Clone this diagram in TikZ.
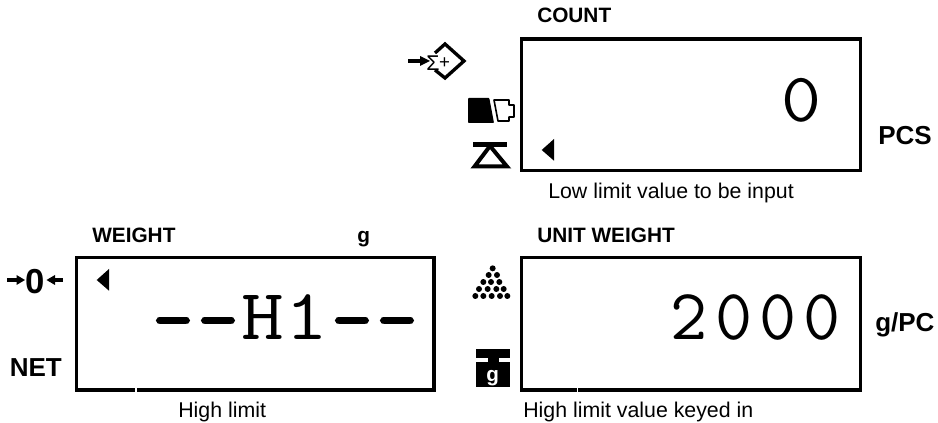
\documentclass[tikz,border=0pt]{standalone}
\usepackage{fontspec}
\setmainfont{Liberation Sans}
\newfontfamily\lcdmono[LetterSpace=10]{Latin Modern Mono}
\newfontfamily\lcdhi[FakeStretch=1.15,LetterSpace=1.5]{Latin Modern Mono}
\newfontfamily\lcddash[FakeBold=3]{Latin Modern Mono}
\newfontfamily\lcdzero[FakeStretch=1.12]{Latin Modern Mono}
\tikzset{
 lcd/.style={draw=black,line width=2.3pt,fill=none},
 lab/.style={font=\fontsize{15.6pt}{16pt}\selectfont\bfseries,inner sep=0pt,anchor=base west},
 biglab/.style={font=\fontsize{19.5pt}{20pt}\selectfont\bfseries,inner sep=0pt,anchor=base west},
 note/.style={font=\fontsize{16pt}{18pt}\selectfont,inner sep=0pt,anchor=base west},
 read/.style={font=\fontsize{54pt}{56pt}\selectfont\lcdmono,inner sep=0pt},
 dashch/.style={font=\fontsize{54pt}{56pt}\selectfont\lcddash,inner sep=0pt,anchor=base},
 pile/.style={fill=black,draw=none},
}
\begin{document}
\begin{tikzpicture}[x=0.75pt,y=-0.75pt]
\useasboundingbox (0,0) rectangle (938,423);
% boxes
\draw[lcd] (521.6,39) rectangle (860.7,170.5);
\draw[lcd] (76.7,257.7) rectangle (434,390);
\draw[lcd] (521.7,257.7) rectangle (860.7,390);
\fill[white] (135,387) rectangle (137,393);
\fill[white] (576.7,387) rectangle (578,393);
% labels
\node[lab] (l1) at (537,22.5) {COUNT};
\node[biglab] (l2) at (878,144.5) {PCS};
\node[lab] (l3) at (92,242.5) {WEIGHT};
\node[lab] (l4) at (357,242.5) {g};
\node[lab] (l5) at (537,242.5) {UNIT WEIGHT};
\node[biglab] (l6) at (875,331.5) {g/PC};
\node[biglab] (l7) at (9.5,377) {NET};
\node[note] (n1) at (548,199) {Low limit value to be input};
\node[note] (n2) at (178,417.5) {High limit};
\node[note] (n3) at (523,417.5) {High limit value keyed in};
% readouts
\node[read,anchor=base,font=\fontsize{52pt}{54pt}\selectfont\lcdzero] (d1) at (801,121.5) {0};
\node[dashch] (da) at (173,342.5) {−};
\node[dashch] (db) at (218,342.5) {−};
\node[read,anchor=base,font=\fontsize{54pt}{56pt}\selectfont\lcdhi] (d2) at (285,339.5) {H1};
\node[dashch] (dc) at (352,342.5) {−};
\node[dashch] (dd) at (397,342.5) {−};
\node[read,anchor=base east] (d3) at (841,339.5) {2000};
% cursors
\fill (541.7,150) -- (554,139) -- (554,160.7) -- cycle;
\fill (96.7,280) -- (109,269) -- (109,290.7) -- cycle;
% sum-plus key
\draw[line width=2.4pt] (408,61) -- (422,61);
\fill (430,61) -- (420,56) -- (420,66) -- cycle;
\draw[line width=2.5pt,line join=miter] (435,53) -- (445,44) -- (464,61) -- (445,78) -- (435,70);
\node[inner sep=0pt,anchor=base,font=\fontsize{16pt}{16pt}\selectfont] (sg) at (433,71) {Σ};
\node[inner sep=0pt,anchor=base,font=\fontsize{14pt}{14pt}\selectfont] (pl) at (444.5,69) {+};
% battery
\fill[rounded corners=0.6pt] (468,98) -- (489.3,98) -- (494,123) -- (468,123) -- cycle;
\draw[line width=1.2pt,line join=round] (494,100) -- (509,100) -- (509,105) -- (514,105) -- (514,117) -- (509,117) -- (509,121) -- (498,121) -- cycle;
% scale
\fill (473,142) rectangle (507,147);
\draw[line width=3pt,line join=miter] (490,146) -- (474.5,166.5) -- (507,166.5) -- cycle;
% zero key
\fill (7,278) rectangle (17,282);
\fill (25,280) -- (16.5,275) -- (16.5,285) -- cycle;
\node[inner sep=0pt,anchor=base,font=\fontsize{26pt}{26pt}\selectfont\bfseries] (z) at (35.5,293.5) {0};
\fill (63,278) rectangle (54,282);
\fill (46.5,280) -- (55,275) -- (55,285) -- cycle;
% pile of pieces
\foreach \xz/\yz in {158/85,146/105,171/105,130/126,153/126,178/126,117/147,143/147,169/147,191/147,106/168,130/168,155/168,180/168,202/168}
  \fill[pile] ({440+\xz/3},{240+\yz/3}) circle[radius=3];
% weight
\fill (476,349) rectangle (510,358);
\fill (488.3,358) rectangle (499,362.5);
\fill (476,362.3) rectangle (510,386.7);
\node[inner sep=0pt,anchor=base,text=white,font=\fontsize{15.5pt}{15pt}\selectfont\bfseries] (gw) at (492.7,381.5) {g};
\end{tikzpicture}
\end{document}
